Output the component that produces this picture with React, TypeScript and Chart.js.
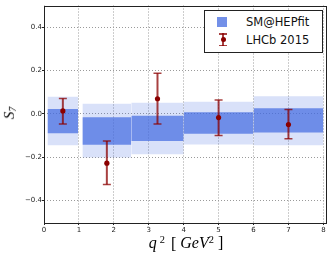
import React, { useEffect, useRef } from "react";
import { Chart, registerables } from "chart.js";

Chart.register(...registerables);

// ---- data ----
const binLo = [0.1, 1.1, 2.5, 4.0, 6.0];
const binHi = [0.98, 2.5, 4.0, 6.0, 8.0];
const sm68Lo = [-0.089, -0.142, -0.125, -0.092, -0.086];
const sm68Hi = [0.023, -0.015, -0.008, 0.008, 0.026];
const sm95Lo = [-0.145, -0.201, -0.186, -0.141, -0.144];
const sm95Hi = [0.079, 0.047, 0.052, 0.056, 0.082];
const lhcbX = [0.54, 1.8, 3.25, 5.0, 7.0];
const lhcbY = [0.014, -0.227, 0.07, -0.017, -0.049];
const lhcbErrHi = [0.071, -0.125, 0.188, 0.064, 0.02];
const lhcbErrLo = [-0.046, -0.325, -0.046, -0.099, -0.114];
const xTicks = [0, 1, 2, 3, 4, 5, 6, 7, 8];
const yTicks = [-0.4, -0.2, 0.0, 0.2, 0.4];
const seriesNames = ["SM@HEPfit", "LHCb 2015"];

const LIGHT = "rgba(65,105,225,0.2)";
const DARK = "rgba(65,105,225,0.7)";
const ERR = "rgba(139,0,0,0.75)";
const MARK = "#8b0000";

const framePlugin = {
  id: "frame",
  afterDraw(chart: any) {
    const { ctx, chartArea } = chart;
    ctx.save();
    ctx.strokeStyle = "#222";
    ctx.lineWidth = 1;
    ctx.strokeRect(
      Math.round(chartArea.left) + 0.5,
      Math.round(chartArea.top) + 0.5,
      Math.round(chartArea.right - chartArea.left) - 1,
      Math.round(chartArea.bottom - chartArea.top) - 1
    );
    ctx.restore();
  },
};

export default function App() {
  const ref = useRef<HTMLCanvasElement | null>(null);

  useEffect(() => {
    document.body.style.margin = "0";
    const datasets: any[] = [];
    binLo.forEach((lo, i) => {
      const hi = binHi[i];
      datasets.push({
        data: [{ x: lo, y: sm95Hi[i] }, { x: hi, y: sm95Hi[i] }],
        borderWidth: 0, pointRadius: 0, backgroundColor: LIGHT, fill: "+1", order: 4,
      });
      datasets.push({
        data: [{ x: lo, y: sm95Lo[i] }, { x: hi, y: sm95Lo[i] }],
        borderWidth: 0, pointRadius: 0, fill: false, order: 4,
      });
    });
    binLo.forEach((lo, i) => {
      const hi = binHi[i];
      datasets.push({
        data: [{ x: lo, y: sm68Hi[i] }, { x: hi, y: sm68Hi[i] }],
        borderWidth: 0, pointRadius: 0, backgroundColor: DARK, fill: "+1", order: 3,
      });
      datasets.push({
        data: [{ x: lo, y: sm68Lo[i] }, { x: hi, y: sm68Lo[i] }],
        borderWidth: 0, pointRadius: 0, fill: false, order: 3,
      });
    });
    lhcbX.forEach((x, i) => {
      datasets.push({
        data: [{ x, y: lhcbErrLo[i] }, { x, y: lhcbErrHi[i] }],
        borderColor: ERR, borderWidth: 2, pointStyle: "line", pointRadius: 4,
        pointBorderColor: ERR, pointBorderWidth: 1.5, fill: false, order: 2,
      });
    });
    datasets.push({
      label: seriesNames[1],
      data: lhcbX.map((x, i) => ({ x, y: lhcbY[i] })),
      showLine: false, pointRadius: 2.6, pointBackgroundColor: MARK,
      pointBorderColor: MARK, pointBorderWidth: 0, order: 1,
    });

    const chart = new Chart(ref.current as HTMLCanvasElement, {
      type: "line",
      data: { datasets },
      plugins: [framePlugin],
      options: {
        animation: false,
        responsive: false,
        maintainAspectRatio: false,
        layout: { padding: { top: 4, right: 5, left: 0, bottom: 0 } },
        plugins: { legend: { display: false }, tooltip: { enabled: false } },
        scales: {
          x: {
            type: "linear",
            min: 0,
            max: 8.09,
            afterBuildTicks: (s: any) => { s.ticks = xTicks.map((v) => ({ value: v })); },
            afterFit: (s: any) => { s.height = 37; },
            ticks: {
              font: { size: 7, family: "DejaVu Sans" }, color: "#222", padding: 1,
              maxRotation: 0, autoSkip: false,
              callback: (v: any) => String(v),
            },
            grid: {
              color: "#9a9a9a", lineWidth: 1, tickLength: 2, tickColor: "#222",
              borderDash: [1, 2], tickBorderDash: [],
            } as any,
            border: { display: false, dash: [1, 2] } as any,
          },
          y: {
            type: "linear",
            min: -0.503,
            max: 0.5,
            afterBuildTicks: (s: any) => { s.ticks = yTicks.map((v) => ({ value: v })); },
            afterFit: (s: any) => { s.width = 44; },
            ticks: {
              font: { size: 7, family: "DejaVu Sans" }, color: "#222", padding: 0,
              autoSkip: false,
              callback: (v: any) => (v < 0 ? "\u2212" : "") + Math.abs(v).toFixed(1),
            },
            grid: {
              color: "#9a9a9a", lineWidth: 1, tickLength: 2, tickColor: "#222",
              borderDash: [1, 2], tickBorderDash: [],
            } as any,
            border: { display: false, dash: [1, 2] } as any,
          },
        },
      } as any,
    });
    return () => chart.destroy();
  }, []);

  const legendText: React.CSSProperties = {
    position: "absolute", left: 246, fontFamily: "DejaVu Sans", fontSize: 11.5,
    lineHeight: "12px", color: "#111", whiteSpace: "nowrap",
  };

  return (
    <div style={{ position: "relative", width: 332, height: 260, background: "#fff" }}>
      <canvas ref={ref} width={332} height={260} style={{ display: "block" }} />
      <div
        style={{
          position: "absolute", left: 10, top: 113, transform: "translate(-50%,-50%) rotate(-90deg)",
          fontFamily: "Liberation Serif", fontStyle: "italic", fontSize: 15, lineHeight: 1, whiteSpace: "nowrap",
        }}
      >
        S<sub style={{ fontSize: "0.65em", verticalAlign: "-0.25em" }}>7</sub>
      </div>
      <div
        style={{
          position: "absolute", left: 186, top: 243, transform: "translate(-50%,-50%)",
          fontFamily: "Liberation Serif", fontSize: 16, lineHeight: 1, whiteSpace: "nowrap",
        }}
      >
        <i>q</i>
        <sup style={{ fontSize: "0.65em", verticalAlign: "0.55em", marginLeft: 3 }}>2</sup>
        <span style={{ marginLeft: 6 }}>[ </span>
        <i>GeV</i>
        <sup style={{ fontSize: "0.65em", verticalAlign: "0.55em" }}>2</sup>
        <span> ]</span>
      </div>
      <div
        style={{
          position: "absolute", left: 204, top: 10, width: 119, height: 43, boxSizing: "border-box",
          border: "1px solid #222", background: "#fff",
        }}
      />
      <div style={{ position: "absolute", left: 217, top: 17, width: 10, height: 10, background: "#7390e8" }} />
      <div style={{ ...legendText, top: 16 }}>{seriesNames[0]}</div>
      <div style={{ position: "absolute", left: 222, top: 33, width: 2, height: 13, background: ERR }} />
      <div style={{ position: "absolute", left: 219, top: 33, width: 8, height: 1.5, background: ERR }} />
      <div style={{ position: "absolute", left: 219, top: 44.5, width: 8, height: 1.5, background: ERR }} />
      <div style={{ position: "absolute", left: 220.5, top: 37, width: 5, height: 5, borderRadius: "50%", background: MARK }} />
      <div style={{ ...legendText, top: 34 }}>{seriesNames[1]}</div>
    </div>
  );
}
